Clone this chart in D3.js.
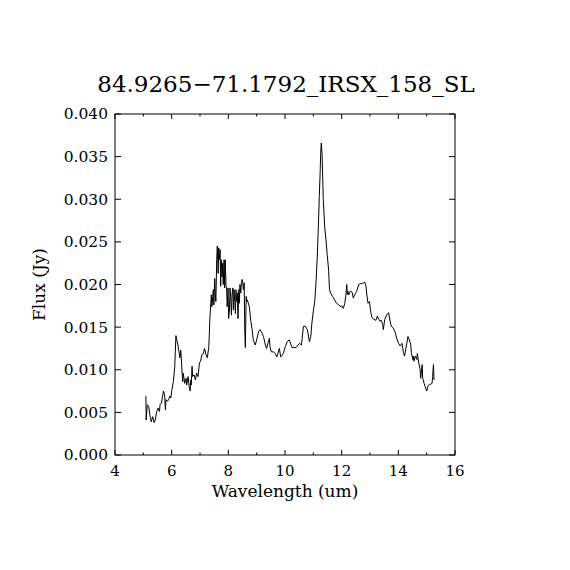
<!DOCTYPE html>
<html>
<head>
<meta charset="utf-8">
<script src="https://cdn.jsdelivr.net/npm/d3@7"></script>
<style>
  body { margin: 0; background: #fff; }
  text { font-family: "DejaVu Serif", serif; fill: #000; }
</style>
</head>
<body>
<div id="plot"></div>
<script>
// spectrum
const wavelength = [5.09,5.10,5.14,5.19,5.24,5.28,5.33,5.38,5.42,5.47,5.52,5.57,5.59,5.64,5.68,5.71,5.75,5.78,5.80,5.85,5.89,5.94,5.97,6.01,6.06,6.11,6.13,6.15,6.18,6.22,6.25,6.29,6.32,6.34,6.37,6.39,6.41,6.46,6.51,6.53,6.58,6.62,6.65,6.67,6.69,6.72,6.74,6.79,6.84,6.88,6.93,6.98,7.02,7.07,7.12,7.16,7.21,7.26,7.31,7.33,7.35,7.40,7.42,7.45,7.47,7.49,7.52,7.54,7.56,7.59,7.61,7.64,7.66,7.68,7.71,7.73,7.75,7.78,7.80,7.82,7.85,7.87,7.89,7.92,7.94,7.96,7.99,8.01,8.04,8.06,8.08,8.11,8.13,8.16,8.18,8.20,8.23,8.25,8.27,8.30,8.32,8.34,8.37,8.39,8.41,8.44,8.46,8.49,8.51,8.53,8.56,8.58,8.60,8.63,8.65,8.67,8.74,8.79,8.84,8.88,8.95,9.00,9.07,9.12,9.19,9.24,9.31,9.35,9.40,9.45,9.47,9.52,9.59,9.66,9.71,9.75,9.80,9.85,9.90,9.94,10.01,10.08,10.15,10.25,10.32,10.39,10.46,10.51,10.58,10.65,10.72,10.79,10.86,10.91,10.95,11.00,11.05,11.10,11.14,11.19,11.21,11.24,11.26,11.28,11.31,11.33,11.35,11.40,11.45,11.49,11.54,11.57,11.61,11.68,11.75,11.82,11.90,11.97,12.01,12.06,12.11,12.15,12.18,12.20,12.22,12.25,12.30,12.37,12.41,12.46,12.53,12.60,12.67,12.74,12.81,12.86,12.88,12.93,12.98,13.02,13.07,13.14,13.21,13.26,13.31,13.35,13.40,13.45,13.47,13.52,13.57,13.61,13.66,13.71,13.75,13.82,13.90,13.94,14.01,14.06,14.13,14.18,14.22,14.25,14.30,14.34,14.39,14.44,14.46,14.51,14.53,14.55,14.60,14.65,14.67,14.72,14.77,14.79,14.84,14.86,14.91,14.95,15.00,15.05,15.10,15.14,15.19,15.21,15.24,15.26];
const flux = [0.0069,0.0041,0.0059,0.0057,0.0045,0.0039,0.0045,0.0038,0.0041,0.0051,0.0055,0.0051,0.0059,0.0061,0.0069,0.0075,0.0071,0.0053,0.0065,0.0063,0.0065,0.0069,0.0067,0.0077,0.0086,0.0104,0.0123,0.0140,0.0135,0.0129,0.0123,0.0114,0.0123,0.0114,0.0096,0.0086,0.0096,0.0084,0.0090,0.0082,0.0092,0.0080,0.0075,0.0088,0.0082,0.0104,0.0092,0.0094,0.0088,0.0096,0.0092,0.0108,0.0110,0.0118,0.0119,0.0125,0.0118,0.0114,0.0127,0.0143,0.0161,0.0188,0.0174,0.0186,0.0194,0.0176,0.0207,0.0190,0.0180,0.0229,0.0245,0.0213,0.0243,0.0229,0.0241,0.0198,0.0229,0.0209,0.0225,0.0200,0.0229,0.0196,0.0229,0.0198,0.0196,0.0174,0.0196,0.0160,0.0170,0.0196,0.0186,0.0164,0.0188,0.0196,0.0170,0.0194,0.0180,0.0166,0.0194,0.0180,0.0190,0.0160,0.0194,0.0178,0.0200,0.0190,0.0202,0.0206,0.0202,0.0194,0.0202,0.0147,0.0126,0.0186,0.0180,0.0182,0.0174,0.0158,0.0147,0.0135,0.0129,0.0135,0.0145,0.0147,0.0143,0.0139,0.0129,0.0125,0.0131,0.0137,0.0127,0.0121,0.0121,0.0119,0.0115,0.0119,0.0125,0.0115,0.0117,0.0119,0.0127,0.0133,0.0135,0.0126,0.0126,0.0126,0.0129,0.0131,0.0129,0.0151,0.0151,0.0147,0.0133,0.0139,0.0155,0.0169,0.0180,0.0206,0.0233,0.0280,0.0303,0.0331,0.0354,0.0366,0.0352,0.0327,0.0300,0.0268,0.0251,0.0235,0.0217,0.0194,0.0190,0.0186,0.0182,0.0178,0.0176,0.0174,0.0175,0.0172,0.0178,0.0188,0.0200,0.0188,0.0192,0.0188,0.0192,0.0191,0.0184,0.0188,0.0192,0.0200,0.0201,0.0201,0.0203,0.0198,0.0190,0.0178,0.0180,0.0169,0.0161,0.0159,0.0158,0.0163,0.0159,0.0157,0.0158,0.0153,0.0147,0.0159,0.0163,0.0165,0.0167,0.0157,0.0151,0.0149,0.0143,0.0137,0.0131,0.0128,0.0131,0.0120,0.0116,0.0122,0.0131,0.0139,0.0135,0.0129,0.0120,0.0112,0.0116,0.0110,0.0116,0.0112,0.0119,0.0108,0.0100,0.0090,0.0106,0.0090,0.0084,0.0080,0.0075,0.0081,0.0083,0.0083,0.0084,0.0092,0.0106,0.0088];

const xMajor = [4,6,8,10,12,14,16];
const xMinor = [5,7,9,11,13,15];
const yMajor = [0,0.005,0.010,0.015,0.020,0.025,0.030,0.035,0.040];
const title = "84.9265\u221271.1792_IRSX_158_SL";

const width = 570, height = 570;
const margin = {top: 114, right: 115, bottom: 115, left: 115};

var svg = d3.select("#plot").append("svg").attr("width", width).attr("height", height);
var xScale = d3.scaleLinear().domain([4, 16]).range([margin.left, width-margin.right]);
var yScale = d3.scaleLinear().domain([0, 0.040]).range([height-margin.bottom, margin.top]);

// frame
svg.append("rect").attr("x", xScale(4)).attr("y", yScale(0.040))
    .attr("width", xScale(16)-xScale(4)).attr("height", yScale(0)-yScale(0.040))
    .attr("fill", "none").attr("stroke", "#000").attr("stroke-width", 1);

// ticks pointing inward, on all four sides
var ticks = svg.append("g").attr("stroke", "#000").attr("stroke-width", 1);
xMajor.concat(xMinor).forEach(function(v){
    var len = xMajor.includes(v) ? 5 : 2.5;
    ticks.append("line").attr("x1", xScale(v)).attr("x2", xScale(v))
        .attr("y1", yScale(0)).attr("y2", yScale(0)-len);
    ticks.append("line").attr("x1", xScale(v)).attr("x2", xScale(v))
        .attr("y1", yScale(0.040)).attr("y2", yScale(0.040)+len);
});
yMajor.forEach(function(v){
    ticks.append("line").attr("x1", xScale(4)).attr("x2", xScale(4)+6)
        .attr("y1", yScale(v)).attr("y2", yScale(v));
    ticks.append("line").attr("x1", xScale(16)).attr("x2", xScale(16)-6)
        .attr("y1", yScale(v)).attr("y2", yScale(v));
});

// tick labels
svg.append("g").selectAll("text").data(xMajor).enter().append("text")
    .attr("x", d=>xScale(d)).attr("y", yScale(0)+21)
    .attr("text-anchor", "middle").style("font-size", "15px")
    .text(d=>d);
svg.append("g").selectAll("text").data(yMajor).enter().append("text")
    .attr("x", xScale(4)-7).attr("y", d=>yScale(d)).attr("dy", "0.35em")
    .attr("text-anchor", "end").style("font-size", "15.5px")
    .text(d=>d3.format(".3f")(d));

// spectrum
var line = d3.line().x(d=>xScale(d[0])).y(d=>yScale(d[1]));
svg.append("path").datum(d3.zip(wavelength, flux))
    .attr("d", line).attr("fill", "none")
    .attr("stroke", "#000").attr("stroke-width", 1);

// title and axis labels
svg.append("text").attr("x", 286).attr("y", 92).attr("text-anchor", "middle")
    .style("font-size", "23px").text(title);
svg.append("text").attr("x", width/2).attr("y", 497).attr("text-anchor", "middle")
    .style("font-size", "17px").text("Wavelength (um)");
svg.append("text").attr("transform", "translate(45," + yScale(0.020) + ") rotate(-90)")
    .attr("text-anchor", "middle").style("font-size", "17px").text("Flux (Jy)");
</script>
</body>
</html>
